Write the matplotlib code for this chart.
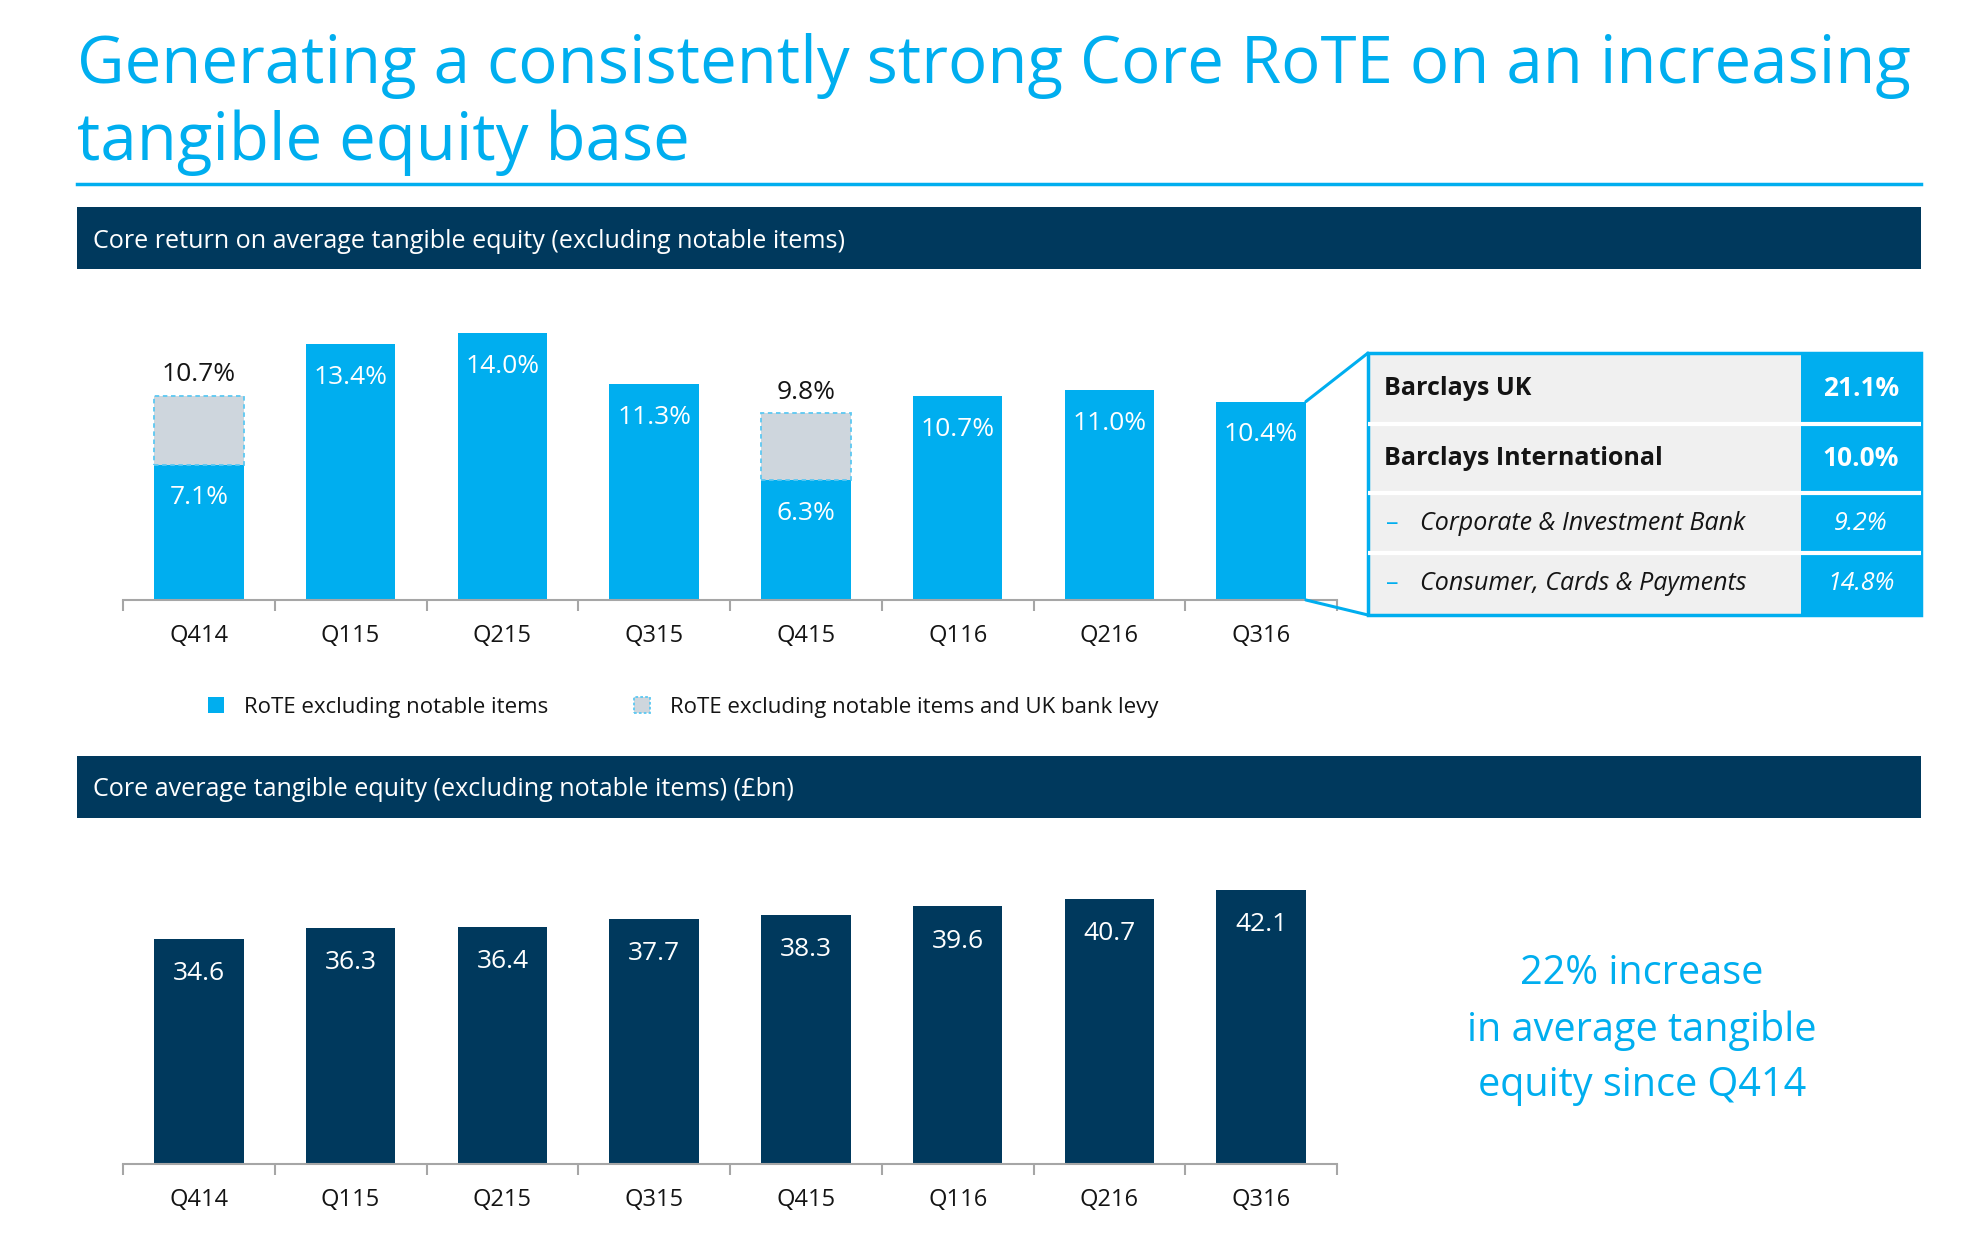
import numpy as np
import matplotlib
matplotlib.use("Agg")
import matplotlib.pyplot as plt
from matplotlib.patches import Rectangle, Patch, ConnectionPatch
from matplotlib.lines import Line2D

# Data
QUARTERS = ["Q414", "Q115", "Q215", "Q315", "Q415", "Q116", "Q216", "Q316"]
ROTE = [7.1, 13.4, 14.0, 11.3, 6.3, 10.7, 11.0, 10.4]
ROTE_EX_LEVY = [10.7, np.nan, np.nan, np.nan, 9.8, np.nan, np.nan, np.nan]
TANGIBLE_EQUITY = [34.6, 36.3, 36.4, 37.7, 38.3, 39.6, 40.7, 42.1]

DIVISIONS = ["Barclays UK", "Barclays International",
             "Corporate & Investment Bank", "Consumer, Cards & Payments"]
DIVISION_ROTE = [21.1, 10.0, 9.2, 14.8]
DIVISION_IS_SUB = [False, False, True, True]

TITLE = ["Generating a consistently strong Core RoTE on an increasing",
         "tangible equity base"]
HEADER_TOP = "Core return on average tangible equity (excluding notable items)"
HEADER_BOTTOM = "Core average tangible equity (excluding notable items) (£bn)"
LEGEND_LABELS = ["RoTE excluding notable items",
                 "RoTE excluding notable items and UK bank levy"]
CALLOUT = "22% increase\nin average tangible\nequity since Q414"

# Style
CYAN = "#00AEEF"
NAVY = "#00395D"
LEVY_GREY = "#CED6DD"
TABLE_FILL = "#F0F0F0"
AXIS_GREY = "#A6A6A6"
TEXT = "#141414"

W, H = 1977, 1242
plt.rcParams["font.family"] = ["Open Sans", "DejaVu Sans"]


def px_rect(left, top, right, bottom):
    return [left / W, 1 - bottom / H, (right - left) / W, (bottom - top) / H]


def fit_width(t, width_px, renderer):
    bb = t.get_window_extent(renderer)
    t.set_fontsize(t.get_fontsize() * width_px / bb.width)
    return t.get_fontsize()


def style_axis(ax, n):
    for s in ["top", "right", "left"]:
        ax.spines[s].set_visible(False)
    ax.spines["bottom"].set_color(AXIS_GREY)
    ax.spines["bottom"].set_linewidth(1.5)
    ax.set_yticks([])
    ax.set_xlim(-0.5, n - 0.5)
    ax.set_xticks(range(n))
    ax.set_xticklabels(QUARTERS, fontsize=17, color=TEXT)
    ax.set_xticks(np.arange(-0.5, n), minor=True)
    ax.tick_params(axis="x", which="major", length=0, pad=17)
    ax.tick_params(axis="x", which="minor", length=8, width=1.5, color=AXIS_GREY)
    ax.patch.set_alpha(0)


fig = plt.figure(figsize=(W / 100, H / 100), dpi=100)
renderer = fig.canvas.get_renderer()

# Title
t1 = fig.text(77 / W, 1 - 83 / H, TITLE[0], fontsize=50, color=CYAN, va="baseline")
size = fit_width(t1, 1833, renderer)
fig.text(77 / W, 1 - 160 / H, TITLE[1], fontsize=size, color=CYAN, va="baseline")
fig.add_artist(Line2D([77 / W, 1921 / W], [1 - 184 / H] * 2, color=CYAN, lw=2.5))

# Section headers
for top, label in [(207, HEADER_TOP), (756, HEADER_BOTTOM)]:
    fig.add_artist(Rectangle((77 / W, 1 - (top + 62) / H), (1921 - 77) / W, 62 / H,
                             transform=fig.transFigure, fc=NAVY, ec="none"))
    h = fig.text(93 / W, 1 - (top + 34) / H, label, fontsize=18, color="white", va="center")
    if label == HEADER_TOP:
        hsize = fit_width(h, 754, renderer)
    else:
        h.set_fontsize(hsize)

# Top chart: RoTE
n = len(QUARTERS)
x = np.arange(n)
bw = 0.59
ax1 = fig.add_axes(px_rect(123, 330, 1337, 600))
ax1.bar(x, ROTE, width=bw, color=CYAN)
levy = np.array(ROTE_EX_LEVY, dtype=float)
has = ~np.isnan(levy)
ax1.bar(x[has], levy[has] - np.array(ROTE)[has], bottom=np.array(ROTE)[has], width=bw,
        color=LEVY_GREY, edgecolor="#5CC8F2", linestyle=(0, (2.5, 2)), linewidth=1.3)
ax1.set_ylim(0, 14.15)
style_axis(ax1, n)
for i, v in enumerate(ROTE):
    ax1.annotate(f"{v:.1f}%", (i, v), xytext=(0, -24), textcoords="offset points",
                 ha="center", va="center", color="white", fontsize=19)
for i in x[has]:
    ax1.annotate(f"{levy[i]:.1f}%", (i, levy[i]), xytext=(0, 15), textcoords="offset points",
                 ha="center", va="center", color=TEXT, fontsize=19, annotation_clip=False)

# Legend
handles = [Patch(facecolor=CYAN, edgecolor="none"),
           Patch(facecolor=LEVY_GREY, edgecolor="#5CC8F2", linestyle=(0, (1.5, 1.2)), linewidth=1.3)]
fig.legend(handles, LEGEND_LABELS, loc="center left", bbox_to_anchor=(208 / W, 1 - 707 / H),
           ncol=2, frameon=False, fontsize=16, handlelength=0.7, handleheight=0.75,
           handletextpad=0.9, columnspacing=3.9, borderaxespad=0, borderpad=0,
           labelcolor=TEXT)

# Division table
rows_px = [353, 424, 493, 553, 615]
tab = fig.add_axes(px_rect(1368, 353, 1921, 615))
tab.set_xlim(0, 1)
tab.set_ylim(1, 0)
tab.axis("off")
span = rows_px[-1] - rows_px[0]
split = (1801 - 1368) / 553
for i, (name, val, sub) in enumerate(zip(DIVISIONS, DIVISION_ROTE, DIVISION_IS_SUB)):
    top = (rows_px[i] - rows_px[0]) / span
    hgt = (rows_px[i + 1] - rows_px[i]) / span
    tab.add_patch(Rectangle((0, top), split, hgt, fc=TABLE_FILL, ec="none"))
    tab.add_patch(Rectangle((split, top), 1 - split, hgt, fc=CYAN, ec="none"))
    yc = top + hgt / 2
    if sub:
        tab.text(0.043, yc, "–", color=CYAN, fontsize=18, ha="center", va="center")
        tab.text(0.094, yc, name, color=TEXT, fontsize=18, style="italic", va="center")
        tab.text((1 + split) / 2, yc, f"{val:.1f}%", color="white", fontsize=18,
                 style="italic", ha="center", va="center")
    else:
        tab.text(0.029, yc, name, color=TEXT, fontsize=18, fontweight="bold", va="center")
        tab.text((1 + split) / 2, yc, f"{val:.1f}%", color="white", fontsize=19,
                 fontweight="bold", ha="center", va="center")
    if i > 0:
        tab.axhline(top, color="white", lw=3)
tab.add_patch(Rectangle((0, 0), 1, 1, fill=False, ec=CYAN, lw=2.5, clip_on=False))

# Connectors from last bar to table (transAxes y=1 is the top edge)
last = n - 1
for (yb, yt) in [(ROTE[last], 1), (0, 0)]:
    fig.add_artist(ConnectionPatch(xyA=(last + bw / 2, yb), coordsA=ax1.transData,
                                   xyB=(0, yt), coordsB=tab.transAxes, color=CYAN, lw=2.2))

# Bottom chart: tangible equity
ax2 = fig.add_axes(px_rect(123, 880, 1337, 1164))
ax2.bar(x, TANGIBLE_EQUITY, width=bw, color=NAVY)
ax2.set_ylim(0, 43.64)
style_axis(ax2, n)
for i, v in enumerate(TANGIBLE_EQUITY):
    ax2.annotate(f"{v:.1f}", (i, v), xytext=(0, -25), textcoords="offset points",
                 ha="center", va="center", color="white", fontsize=19)

fig.text(1642 / W, 1 - 1030 / H, CALLOUT, fontsize=28.5, color=CYAN, ha="center",
         va="center", linespacing=1.5)

fig.savefig("out.png", dpi=100)
